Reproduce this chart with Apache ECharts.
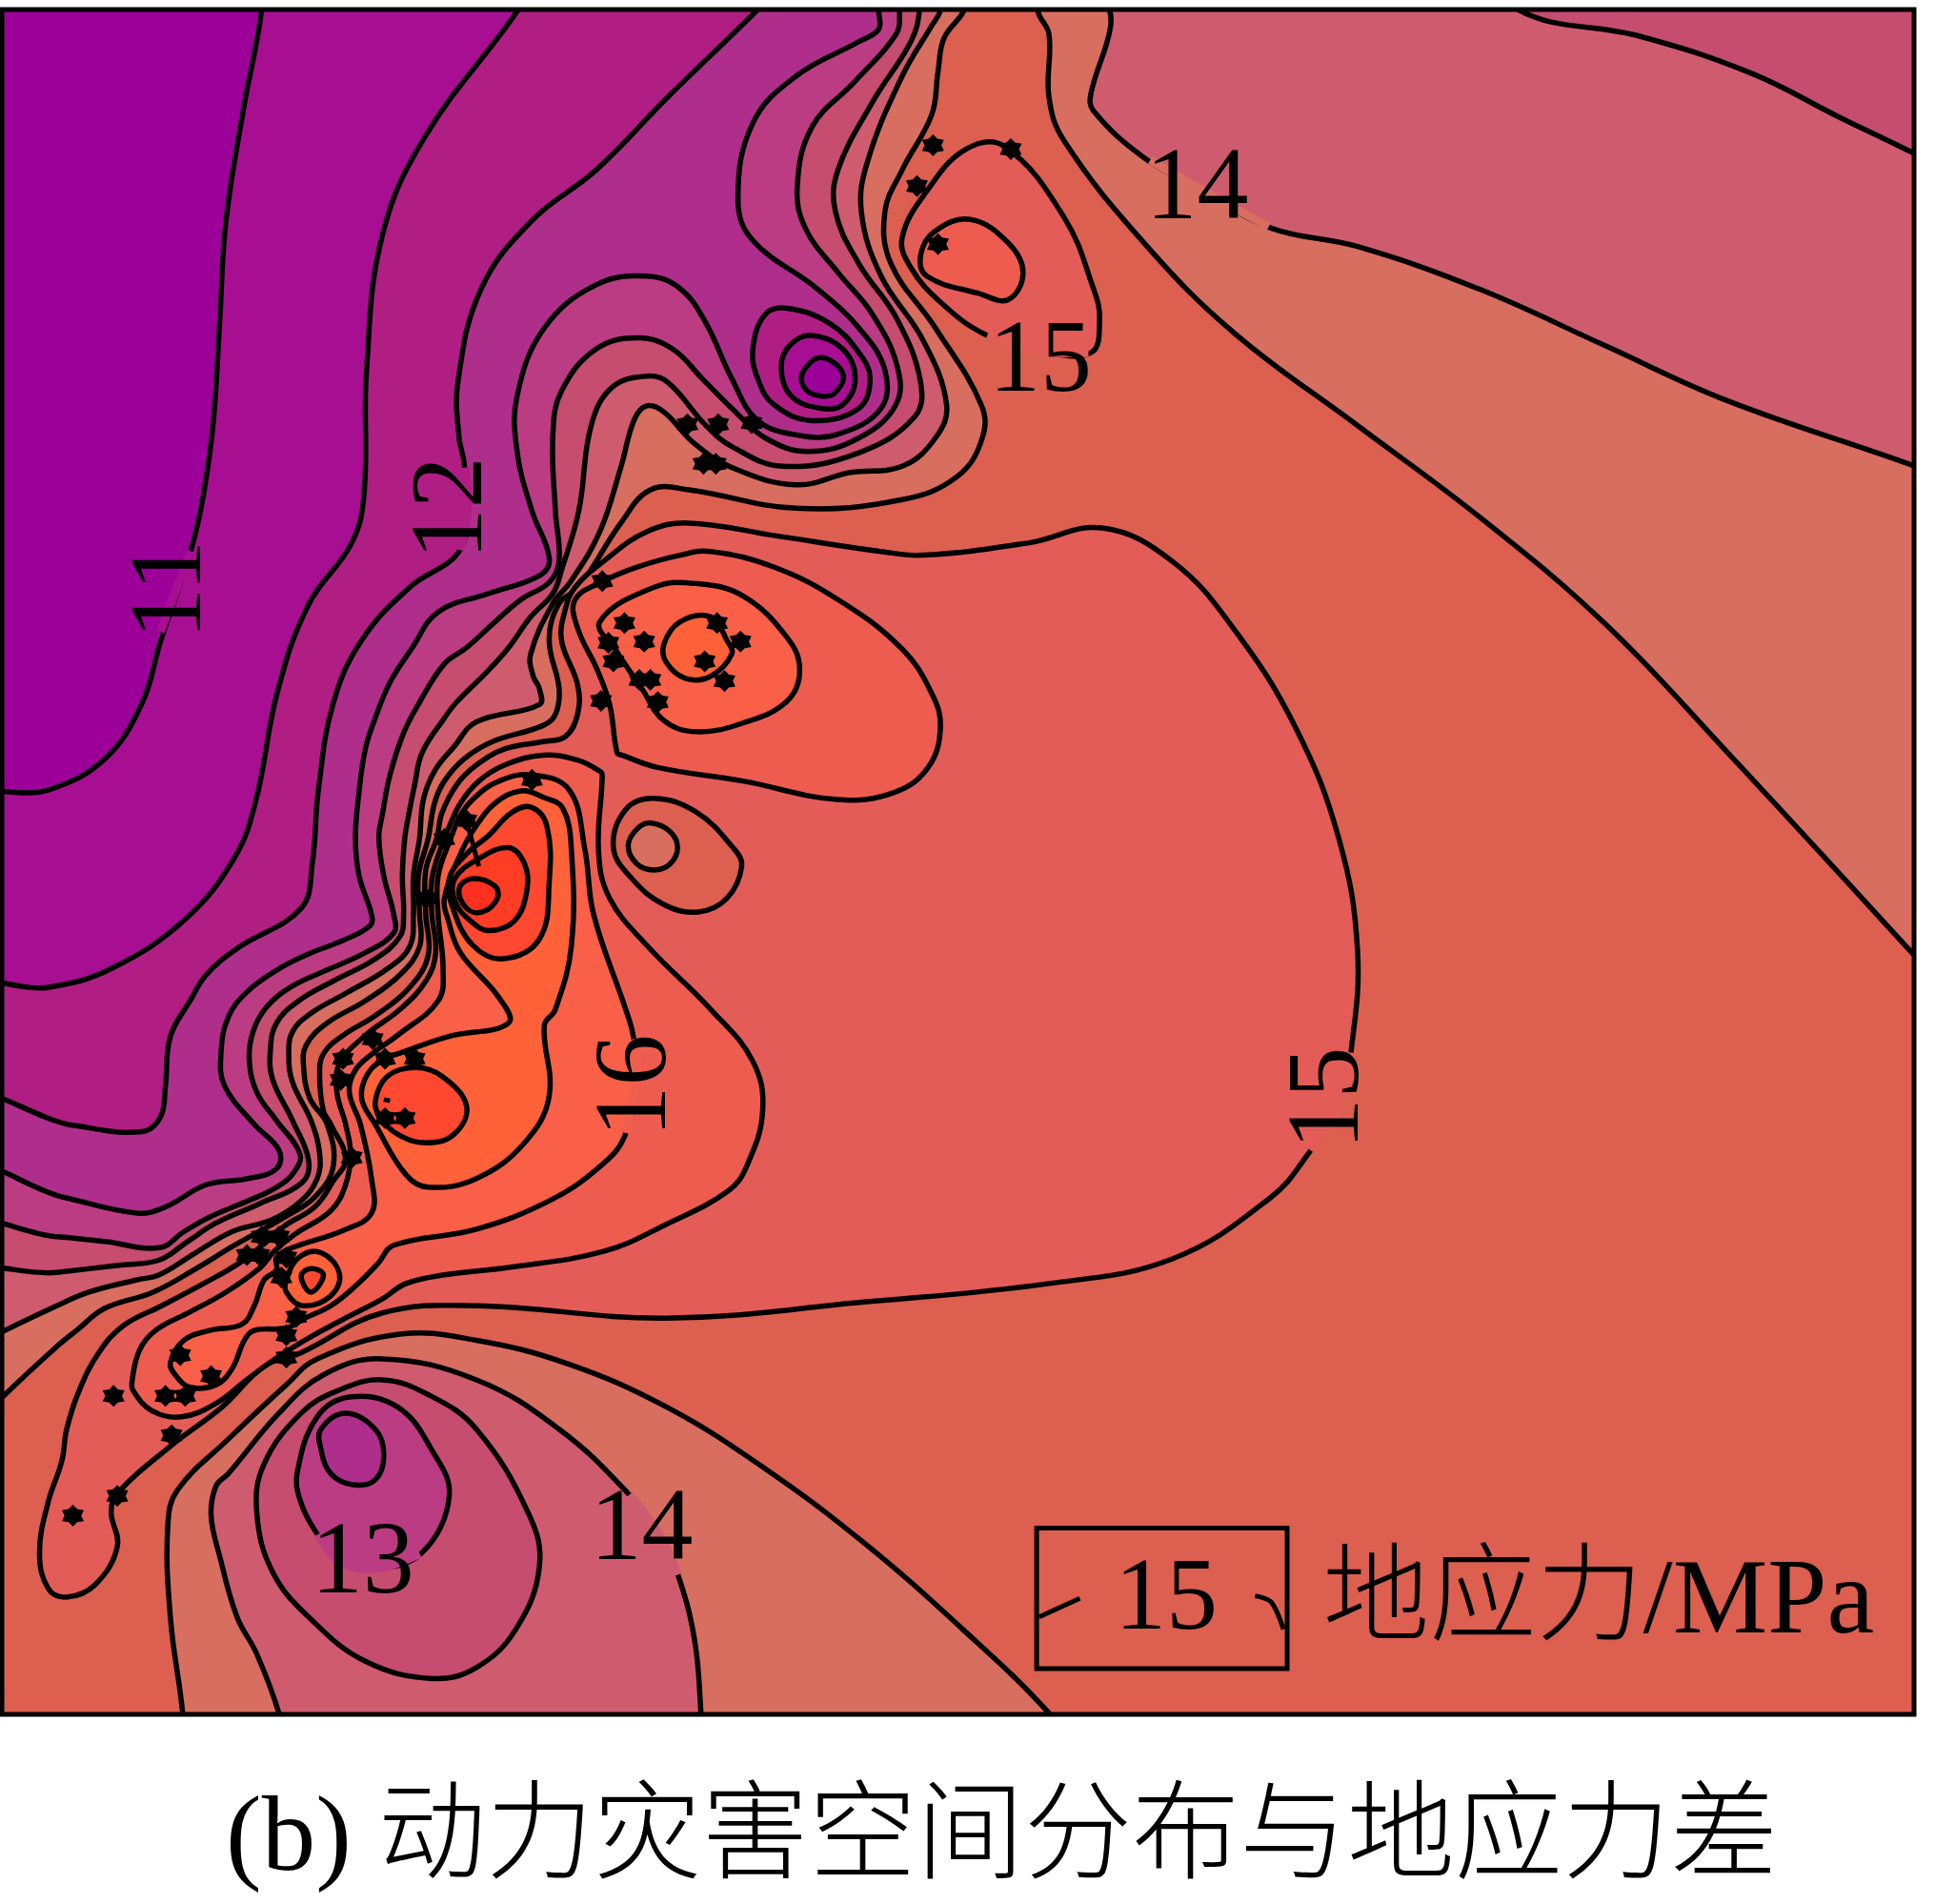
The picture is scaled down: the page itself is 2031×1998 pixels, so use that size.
<!DOCTYPE html>
<html>
<head>
<meta charset="utf-8">
<title>动力灾害空间分布与地应力差</title>
<script src="https://cdn.jsdelivr.net/npm/echarts@6/dist/echarts.min.js"></script>
<style>
  html, body { margin: 0; padding: 0; background: #fff; }
  #main { width: 2031px; height: 1998px; }
</style>
</head>
<body>
<div id="main"></div>
<script>
// contour lines, map units, y runs downwards
const line11 = [[212,-30],[212,8],[197,90],[183,180],[178,260],[173,340],[165,400],[155,445],[130,520],[115,570],[85,615],[40,640],[-30,655]];
const line11_5 = [[440,-30],[420,8],[345,110],[310,190],[297,300],[295,400],[285,440],[250,490],[225,560],[207,650],[190,695],[150,745],[90,785],[40,800],[-30,806]];
const line12 = [[640,-20],[613,9],[541,79],[483,138],[431,179],[390,234],[371,310],[372,355],[376,375],[378,410],[372,447],[332,476],[293,519],[270,570],[258,640],[253,700],[244,736],[193,768],[167,790],[154,811],[138,840],[134,880],[130,905],[115,917],[60,912],[-30,896]];
const line12_5 = [[712,-30],[712,9],[712,24],[696,34],[645,62],[610,100],[598,162],[610,195],[662,234],[696,266],[717,300],[714,331],[679,352],[648,353],[614,341],[593,307],[572,262],[551,234],[524,224],[483,231],[441,266],[419,321],[419,366],[431,414],[445,452],[438,466],[396,481],[355,496],[334,525],[316,553],[304,582],[296,607],[291,641],[288,679],[291,710],[301,741],[300,750],[278,762],[250,773],[226,785],[201,803],[185,824],[179,854],[182,880],[206,911],[226,932],[224,947],[201,955],[167,960],[134,978],[111,983],[51,970],[-30,952]];
const line13 = [[729,-30],[729,9],[726,28],[693,66],[658,103],[646,152],[653,186],[679,221],[707,255],[727,297],[726,328],[696,355],[655,366],[620,355],[593,331],[569,307],[545,283],[517,274],[483,283],[455,317],[448,352],[450,414],[453,455],[445,472],[422,486],[400,505],[378,525],[360,538],[340,569],[327,594],[316,628],[310,659],[307,679],[311,710],[319,741],[319,756],[296,772],[265,786],[237,799],[216,816],[205,836],[202,859],[208,885],[224,908],[243,935],[238,950],[224,962],[201,973],[170,986],[149,998],[129,1011],[85,1006],[46,1002],[-30,999]];
const line13_5 = [[745,-30],[745,9],[738,34],[707,83],[679,138],[677,172],[696,214],[727,259],[746,310],[741,338],[696,367],[634,378],[593,362],[572,345],[541,310],[524,305],[496,314],[479,345],[469,414],[455,462],[448,481],[430,500],[412,525],[396,543],[370,569],[360,582],[342,610],[336,636],[331,661],[328,679],[326,710],[327,741],[324,759],[304,777],[270,795],[242,811],[224,829],[219,852],[221,875],[237,908],[250,940],[245,958],[211,975],[175,991],[152,1006],[129,1021],[98,1025],[46,1031],[-30,1040]];
const line14 = [[770,-30],[762,9],[755,21],[731,62],[703,131],[698,172],[714,224],[748,276],[767,328],[758,355],[731,378],[689,383],[645,393],[593,379],[562,359],[538,334],[524,329],[514,340],[503,379],[486,431],[462,472],[448,489],[430,530],[432,548],[437,558],[437,571],[386,585],[368,605],[352,625],[343,648],[340,679],[335,710],[335,741],[332,767],[314,785],[280,805],[252,821],[237,836],[234,854],[237,877],[252,908],[259,935],[257,955],[244,973],[221,988],[188,998],[157,1016],[129,1033],[111,1037],[72,1047],[46,1058],[4,1078],[-30,1096]];
const line14_5 = [[795,-30],[781,9],[765,31],[760,59],[755,93],[731,138],[717,172],[722,214],[758,266],[795,328],[796,355],[776,386],[731,405],[645,412],[558,397],[527,397],[503,424],[469,476],[453,489],[445,519],[453,558],[450,579],[440,588],[399,601],[376,615],[360,633],[352,651],[347,679],[339,710],[340,741],[340,767],[324,790],[296,811],[265,829],[248,847],[246,865],[251,890],[265,911],[270,945],[255,970],[231,986],[190,1009],[157,1029],[124,1047],[85,1060],[62,1078],[46,1091],[4,1130],[-30,1165]];
const line15 = [[893,428],[950,455],[1000,510],[1050,590],[1085,680],[1100,770],[1095,850],[1085,895],[1060,935],[1030,970],[950,1020],[850,1040],[700,1055],[540,1068],[386,1058],[309,1064],[244,1096],[214,1107],[180,1140],[139,1171],[95,1210],[90,1225],[95,1253],[77,1284],[54,1294],[39,1287],[32,1258],[39,1217],[50,1184],[54,1158],[64,1127],[80,1096],[100,1074],[131,1058],[165,1040],[193,1024],[215,1007],[231,993],[255,978],[270,957],[280,939],[268,911],[262,900],[259,872],[262,854],[278,839],[304,823],[332,800],[347,774],[345,741],[345,705],[354,679],[358,659],[370,636],[386,620],[409,607],[440,601],[458,597],[468,579],[468,555],[455,519],[458,494],[466,476],[489,455],[524,431],[558,424],[627,434],[714,447],[748,450],[834,440]];
const line15_5North = [[500,610],[494,571],[484,543],[468,509],[466,486],[489,471],[515,460],[551,450],[576,447],[628,460],[679,486],[730,525],[755,562],[762,590],[752,622],[725,642],[679,648],[602,633],[533,622],[504,612]];
const line15_5West = [[488,628],[485,690],[494,728],[525,767],[576,818],[610,860],[618,900],[605,945],[590,965],[540,992],[489,1014],[412,1027],[360,1033],[329,1040],[309,1053],[278,1069],[252,1083],[226,1099],[201,1117],[175,1137],[147,1148],[123,1143],[108,1127],[107,1119],[113,1094],[126,1078],[154,1063],[183,1047],[211,1027],[222,1014],[239,1000],[268,981],[280,960],[284,935],[280,911],[273,885],[275,862],[296,839],[324,818],[345,795],[353,772],[350,741],[350,712],[360,679],[363,672],[373,651],[388,633],[409,620],[440,612],[468,616],[486,625]];
const line16North = [[486,504],[530,476],[564,473],[602,483],[638,517],[648,543],[638,568],[602,586],[564,593],[538,584],[520,558],[499,527]];
const line16West = [[430,628],[461,640],[474,689],[481,741],[507,818],[513,839],[516,870],[506,921],[484,947],[445,973],[386,996],[319,1009],[306,1024],[288,1042],[268,1058],[247,1068],[232,1076],[206,1078],[198,1086],[188,1109],[175,1122],[154,1124],[142,1114],[138,1104],[149,1086],[170,1078],[196,1073],[206,1058],[214,1037],[224,1029],[224,1019],[237,1011],[278,997],[301,983],[301,955],[292,911],[283,885],[288,867],[304,852],[322,839],[355,811],[359,785],[355,741],[355,710],[365,680],[373,661],[383,648],[402,634]];
const line16_5North = [[538,522],[551,504],[576,500],[589,519],[593,530],[576,548],[556,550],[540,537]];
const line16_5West = [[401,651],[422,641],[440,646],[456,655],[463,689],[463,766],[450,818],[441,831],[445,888],[425,926],[386,955],[347,962],[329,952],[304,911],[293,890],[298,870],[313,857],[322,854],[363,840],[412,829],[404,808],[373,772],[363,745],[360,728],[374,690],[386,669]];
const line16_5South = [[232,1037],[242,1019],[260,1015],[275,1032],[268,1050],[245,1058],[232,1047]];
const line17West = [[396,677],[414,659],[430,654],[443,669],[445,715],[437,761],[407,777],[383,766],[367,736],[364,712],[378,692]];
const line17Lower = [[304,893],[314,872],[337,865],[358,872],[378,896],[368,919],[345,926],[322,919],[309,906]];
const line17South = [[244,1034],[252,1028],[262,1033],[252,1047]];
const line17_5 = [[368,713],[386,697],[412,687],[425,700],[427,721],[417,746],[396,754],[381,746],[369,731]];
const line18 = [[372,720],[383,712],[401,718],[403,728],[391,739],[378,736]];
// north east corner
const corner14_5 = [[841,-30],[841,9],[850,28],[850,79],[862,114],[927,197],[1000,270],[1100,345],[1200,420],[1300,505],[1400,610],[1552,775],[1620,850],[1620,-30]];
const corner14 = [[900,-30],[900,21],[884,76],[886,90],[927,128],[975,155],[1030,185],[1100,200],[1200,235],[1300,280],[1400,325],[1552,378],[1620,405],[1620,-30]];
const corner13_5 = [[1220,-30],[1230,8],[1330,30],[1420,60],[1490,95],[1552,125],[1620,160],[1620,-30]];
// low in the south
const south14_5 = [[150,1430],[148,1388],[138,1310],[136,1235],[144,1207],[185,1166],[232,1122],[257,1101],[324,1081],[386,1086],[460,1105],[540,1140],[620,1190],[700,1250],[780,1320],[850,1388],[880,1430]];
const south14 = [[236,1430],[226,1388],[208,1340],[192,1310],[178,1261],[171,1228],[175,1204],[185,1194],[226,1145],[262,1114],[309,1101],[386,1118],[453,1158],[508,1209],[535,1245],[550,1278],[563,1330],[568,1388],[570,1430]];
const south13_5 = [[208,1225],[214,1186],[244,1145],[273,1127],[309,1118],[347,1130],[386,1158],[429,1228],[437,1270],[418,1320],[386,1351],[350,1360],[296,1346],[252,1312],[221,1274]];
const south13 = [[241,1192],[257,1148],[283,1132],[322,1140],[350,1175],[364,1212],[342,1258],[304,1271],[275,1265],[257,1243],[243,1215]];
const south12_5 = [[260,1158],[280,1145],[304,1158],[311,1179],[304,1199],[286,1203],[268,1194],[260,1174]];
// low at the top, centre
const ring12 = [[610,283],[620,255],[638,250],[672,262],[696,286],[705,307],[696,331],[658,341],[627,328],[614,307]];
const ring11_5 = [[633,297],[641,279],[658,272],[683,283],[693,307],[683,328],[665,331],[641,321]];
const ring11 = [[650,303],[665,290],[683,303],[676,319],[665,321],[653,316]];
// small low in the middle
const hole15 = [[497,687],[507,656],[530,647],[564,658],[594,687],[601,702],[589,728],[566,739],[538,733],[512,712]];
const hole14_5 = [[509,685],[517,671],[528,667],[543,674],[549,687],[543,700],[530,705],[516,700]];
// high in the north east
const peak15 = [[731,193],[751,155],[783,121],[814,119],[862,176],[886,234],[891,259],[884,286],[841,284],[798,271],[762,245],[738,217]];
const peak15_5 = [[746,207],[757,188],[786,178],[817,197],[829,221],[817,243],[793,238],[751,224]];

const rightBottom = [[-30,1430],[1620,1430],[1620,-30]];
const stars = [[756,118],[819,121],[743,151],[760,198],[557,344],[582,344],[609,343],[570,376],[580,376],[488,471],[506,505],[493,521],[522,520],[497,536],[581,505],[600,520],[571,536],[587,552],[518,551],[527,551],[533,569],[487,568],[431,632],[378,665],[360,680],[345,728],[302,842],[278,858],[276,875],[312,858],[336,858],[312,906],[328,906],[285,938],[212,1002],[226,1002],[200,1017],[210,1017],[232,1019],[228,1035],[240,1067],[232,1082],[232,1100],[146,1098],[171,1115],[134,1131],[150,1131],[92,1131],[139,1163],[95,1212],[59,1228]];
const labelTexts = ['11','12','14','15','16','15','13','14','15','地应力/MPa'];
const labelX = [140,368,970,843,517,1078,294,520,945,1072];
const labelY = [478,412,155,295,880,890,1268,1241,1298,1300];
const labelTurned = [1,1,0,0,1,1,0,0,0,0];
const titleText = '(b) 动力灾害空间分布与地应力差';

const cBase = '#9c0098';
const layers = [
  [line11.concat(rightBottom), '#a80e92'],
  [line11_5.concat(rightBottom), '#b01e84'],
  [line12.concat(rightBottom), '#af2e8c'],
  [ring12, '#b01e84'], [ring11_5, '#a80e92'], [ring11, cBase],
  [line12_5.concat(rightBottom), '#bc3c84'],
  [line13.concat(rightBottom), '#c64c70'],
  [line13_5.concat(rightBottom), '#cf5c6e'],
  [line14.concat(rightBottom), '#d86e60'],
  [line14_5.concat(rightBottom), '#dc5f50'],
  [corner14_5, '#d86e60'], [corner14, '#cf5c6e'], [corner13_5, '#c64c70'],
  [south14_5, '#d86e60'], [south14, '#cf5c6e'], [south13_5, '#c64c70'], [south13, '#bc3c84'], [south12_5, '#af2e8c'],
  [peak15, '#e45c58'], [peak15_5, '#ee5c50'],
  [line15, '#e45c58'], [hole15, '#dc5f50'], [hole14_5, '#d86e60'],
  [line15_5North, '#ee5c50'], [line15_5West, '#ee5c50'],
  [line16North, '#fa5f48'], [line16West, '#fa5f48'],
  [line16_5North, '#ff6238'], [line16_5West, '#ff6238'], [line16_5South, '#ff6238'],
  [line17West, '#ff4830'], [line17Lower, '#ff4830'], [line17South, '#ff4830'],
  [line17_5, '#ff3c24'], [line18, '#ff3020']
];
// the lines break under the contour labels
const gaps = [
  [[[155,447],[142,480],[130,512]], '#a80e92'],
  [[[377,379],[379,410],[373,446]], '#b01e84'],
  [[[932,130],[975,155],[1028,184]], '#d86e60'],
  [[[800,272],[841,284],[882,286]], '#e45c58'],
  [[[513,842],[516,870],[507,918]], '#f25e4e'],
  [[[1095,853],[1085,895],[1062,932]], '#e45c58'],
  [[[258,1243],[275,1265],[304,1271],[340,1259]], '#bc3c84'],
  [[[510,1211],[535,1245],[549,1276]], '#cf5c6e']
];
const blackBits = [
  [[378,665],[388,702]],
  [[311,891],[316,892]],
  [[842,1310],[875,1295]],
  [[1017,1293],[1030,1298],[1040,1320]]
];
const legendBox = [[840,1238],[1043,1352]];

function toPixels(api, pts) {
  return pts.map(function (p) { return api.coord(p); });
}

let myChart = echarts.init(document.getElementById('main'), null, { renderer: 'canvas' });
let option = {
  animation: false,
  backgroundColor: '#fff',
  title: {
    text: titleText,
    left: 232,
    top: 1862,
    textStyle: { color: '#000', fontSize: 113, fontWeight: 300, fontFamily: '"Liberation Serif","Noto Sans CJK SC"', lineHeight: 130 }
  },
  grid: { left: 2, top: 10, width: 2007, height: 1789, show: true, backgroundColor: cBase, borderWidth: 0 },
  xAxis: { type: 'value', min: 1.5, max: 1551, show: false },
  yAxis: { type: 'value', min: 8, max: 1389, inverse: true, show: false },
  series: [
    {
      type: 'custom', z: 2, clip: true, silent: true,
      data: layers.map(function (l, i) { return [i]; }),
      renderItem: function (params, api) {
        let l = layers[params.dataIndex];
        return {
          type: 'polygon',
          shape: { points: toPixels(api, l[0]), smooth: 0.4 },
          style: { fill: l[1], stroke: '#000', lineWidth: 5.5 }
        };
      }
    },
    {
      type: 'custom', z: 3, clip: true, silent: true,
      data: gaps.map(function (g, i) { return [i]; }),
      renderItem: function (params, api) {
        let g = gaps[params.dataIndex];
        return {
          type: 'polyline',
          shape: { points: toPixels(api, g[0]), smooth: 0.4 },
          style: { fill: null, stroke: g[1], lineWidth: 9 }
        };
      }
    },
    {
      type: 'custom', z: 3, clip: true, silent: true,
      data: blackBits.map(function (b, i) { return [i]; }),
      renderItem: function (params, api) {
        return {
          type: 'polyline',
          shape: { points: toPixels(api, blackBits[params.dataIndex]), smooth: 0.3 },
          style: { fill: null, stroke: '#000', lineWidth: 5 }
        };
      }
    },
    {
      type: 'scatter', z: 4, silent: true,
      symbol: 'path://M0,-10L3.4,-6L8.66,-5L6.6,0L8.66,5L3.4,6L0,10L-3.4,6L-8.66,5L-6.6,0L-8.66,-5L-3.4,-6Z',
      symbolSize: 23,
      itemStyle: { color: '#000', opacity: 1 },
      data: stars
    },
    {
      // legend box and the map frame
      type: 'custom', z: 5, clip: false, silent: true,
      data: [[0], [1]],
      renderItem: function (params, api) {
        let a = params.dataIndex === 0 ? legendBox[0] : [1.5, 8];
        let b = params.dataIndex === 0 ? legendBox[1] : [1551, 1389];
        let p0 = api.coord(a), p1 = api.coord(b);
        return {
          type: 'rect',
          shape: { x: p0[0], y: p0[1], width: p1[0] - p0[0], height: p1[1] - p0[1] },
          style: { fill: null, stroke: '#000', lineWidth: 5 }
        };
      }
    },
    {
      type: 'custom', z: 6, clip: false, silent: true,
      data: labelTexts.map(function (t, i) { return [i]; }),
      renderItem: function (params, api) {
        let i = params.dataIndex;
        let p = api.coord([labelX[i], labelY[i]]);
        let isLegend = i === labelTexts.length - 1;
        return {
          type: 'text',
          x: p[0], y: p[1],
          rotation: labelTurned[i] ? Math.PI / 2 : 0,
          style: {
            text: labelTexts[i],
            font: (isLegend ? '300 112px' : '108px') + ' "Liberation Serif","Noto Sans CJK SC"',
            fill: '#000',
            align: isLegend ? 'left' : 'center',
            verticalAlign: 'middle'
          }
        };
      }
    }
  ]
};
myChart.setOption(option);
</script>
</body>
</html>
